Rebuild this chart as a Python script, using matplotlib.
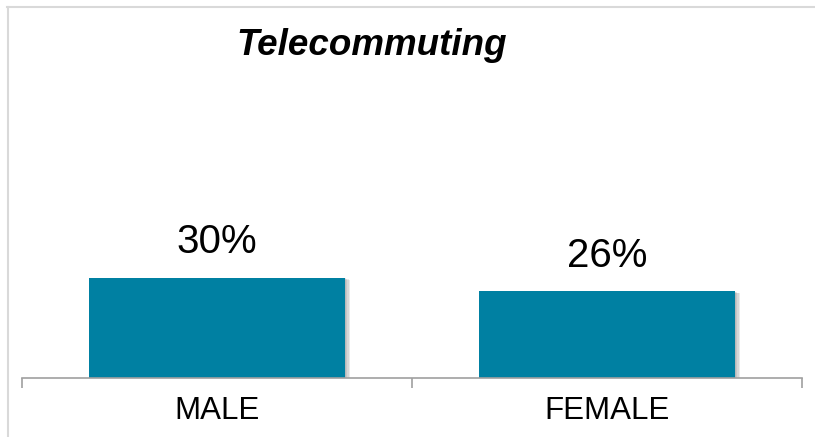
import matplotlib
matplotlib.use("Agg")
import matplotlib.pyplot as plt
import matplotlib.patheffects as pe
from matplotlib.lines import Line2D

plt.rcParams['font.family'] = ['Liberation Sans', 'DejaVu Sans']

# data
categories = ['MALE', 'FEMALE']
values = [30, 26]
title = 'Telecommuting'

W, H = 815, 437
fig = plt.figure(figsize=(W / 100, H / 100), dpi=100)

# axes placed in pixel terms
left, right, base, top = 22, 802, 377.7, 44.5
ax = fig.add_axes([left / W, (H - base) / H, (right - left) / W, (base - top) / H])

bars = ax.bar(range(len(categories)), values, width=0.654, color='#0080A2',
              edgecolor='none', zorder=3)
# soft shadow to the right
shadow = [pe.SimplePatchShadow(offset=(d, -d * 0.4), shadow_rgbFace='#555555', alpha=0.12)
          for d in (4, 3, 2, 1)]
for b in bars:
    b.set_path_effects(shadow + [pe.Normal()])

for i, v in enumerate(values):
    ax.annotate(f'{v}%', xy=(i, v), xytext=(0, 17.5), textcoords='offset points',
                ha='center', va='baseline', fontsize=29, color='black')

ax.set_xlim(-0.5, len(categories) - 0.5)
ax.set_ylim(0, 100)

for s in ['top', 'right', 'left']:
    ax.spines[s].set_visible(False)
ax.spines['bottom'].set_color('#A0A0A0')
ax.spines['bottom'].set_linewidth(1.2)
ax.spines['bottom'].set_zorder(4)
ax.set_yticks([])

# boundary ticks and centered category labels
ax.set_xticks([i - 0.5 for i in range(len(categories) + 1)])
ax.set_xticklabels([])
ax.tick_params(axis='x', which='major', direction='out', length=7, width=1.2, color='#A0A0A0')
ax.set_xticks(range(len(categories)), categories, minor=True)
ax.tick_params(axis='x', which='minor', length=0, pad=13.5, labelsize=22.5)

fig.text(372 / W, 1 - 55 / H, title, ha='center', va='baseline', fontsize=26.5,
         fontweight='bold', fontstyle='italic')

# outer frame lines (top and left)
fig.add_artist(Line2D([7 / W, 1], [1 - 6.5 / H] * 2, transform=fig.transFigure,
                      color='#D9D9D9', lw=1.5))
fig.add_artist(Line2D([7.5 / W] * 2, [0, 1 - 6.5 / H], transform=fig.transFigure,
                      color='#D9D9D9', lw=1.5))

fig.savefig('out.png', dpi=100)
